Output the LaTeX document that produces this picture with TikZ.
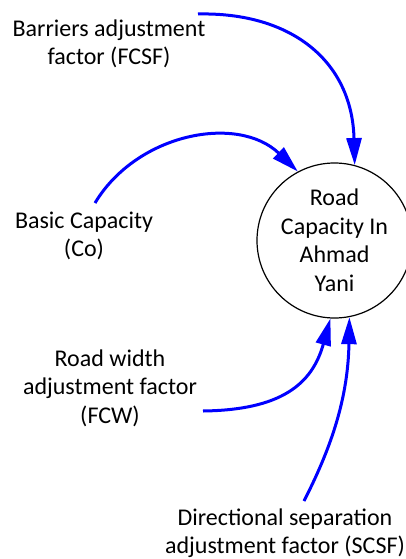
\documentclass[tikz,border=0pt]{standalone}
\usepackage{fontspec}
\setmainfont{Carlito}
\usetikzlibrary{arrows.meta}
\definecolor{linkblue}{RGB}{0,0,255}
\begin{document}
\begin{tikzpicture}[x=1pt,y=-1pt,
  label/.style={align=center,inner sep=0pt,font=\fontsize{24}{28.5}\selectfont},
  stock/.style={circle,draw,line width=1.2pt,minimum size=155pt,inner sep=0pt,
    align=center,font=\fontsize{24}{28.5}\selectfont},
  link/.style={draw=linkblue,line width=3pt,-{Triangle[length=27pt,width=15pt,fill=linkblue]}}]
\useasboundingbox (0,0) rectangle (406,559);
% variables
\node[stock] (cap) at (334.5,240.5) {Road\\Capacity In\\Ahmad\\Yani};
\node[label] (fcsf) at (109,44) {Barriers adjustment\\factor (FCSF)};
\node[label] (co) at (84,236) {Basic Capacity\\(Co)};
\node[label] (fcw) at (110,388) {Road width\\adjustment factor\\(FCW)};
\node[label] (scsf) at (285,533) {Directional separation\\adjustment factor (SCSF)};
% start points of the links
\coordinate (s1) at (198,14);
\coordinate (s2) at (95,203);
\coordinate (s3) at (203,411);
\coordinate (s4) at (304,501);
% links
\draw[link] (s1) .. controls (290,12) and (352,60) .. (cap.75.5);
\draw[link] (s2) .. controls (137,133) and (238,114) .. (cap.118);
\draw[link] (s3) .. controls (280,410) and (312,385) .. (cap.267);
\draw[link] (s4) .. controls (330,450) and (348,400) .. (cap.281);
\end{tikzpicture}
\end{document}
